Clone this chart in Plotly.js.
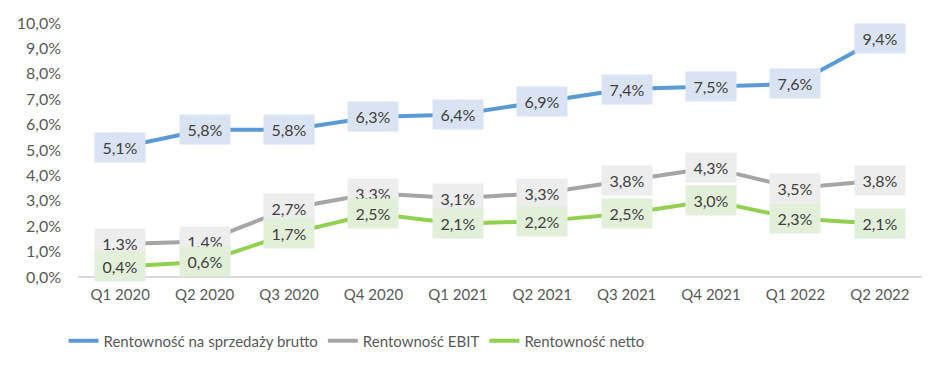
<!DOCTYPE html>
<html>
<head>
<meta charset="utf-8">
<script src="https://cdn.plot.ly/plotly-3.0.1.min.js"></script>
<style>html,body{margin:0;padding:0;background:#fff;}#chart{width:945px;height:373px;}</style>
</head>
<body>
<div id="chart"></div>
<script>
var categories = ["Q1 2020","Q2 2020","Q3 2020","Q4 2020","Q1 2021","Q2 2021","Q3 2021","Q4 2021","Q1 2022","Q2 2022"];
var brutto = [5.1,5.8,5.8,6.3,6.4,6.9,7.4,7.5,7.6,9.4];
var ebit = [1.3,1.4,2.7,3.3,3.1,3.3,3.8,4.3,3.5,3.8];
var netto = [0.4,0.6,1.7,2.5,2.1,2.2,2.5,3.0,2.3,2.1];
var bruttoLabels = ["5,1%","5,8%","5,8%","6,3%","6,4%","6,9%","7,4%","7,5%","7,6%","9,4%"];
var ebitLabels = ["1.3%","1.4%","2,7%","3.3%","3,1%","3,3%","3,8%","4,3%","3,5%","3,8%"];
var nettoLabels = ["0,4%","0,6%","1,7%","2,5%","2,1%","2,2%","2,5%","3,0%","2,3%","2,1%"];
var seriesNames = ["Rentowność na sprzedaży brutto","Rentowność EBIT","Rentowność netto"];
var yTicks = [0,1,2,3,4,5,6,7,8,9,10];
var yTickLabels = ["0,0%","1,0%","2,0%","3,0%","4,0%","5,0%","6,0%","7,0%","8,0%","9,0%","10,0%"];

var colors = ["#5b9bd5","#a5a5a5","#92d050"];
var labelBg = ["#dae3f3","#ededed","#e2f0d9"];
var allVals = [brutto, ebit, netto];
var allLabels = [bruttoLabels, ebitLabels, nettoLabels];
var FONT = "Lato, Roboto, sans-serif";

var traces = allVals.map(function(v,i){
  return {x: categories, y: v, type:"scatter", mode:"lines", name: seriesNames[i],
          line:{color: colors[i], width:4}, hoverinfo:"skip"};
});

var annotations = [];
[1,2,0].forEach(function(i){
  allVals[i].forEach(function(v,j){
    annotations.push({x: categories[j], y: v, xref:"x", yref:"y", text: allLabels[i][j],
      showarrow:false, bgcolor: labelBg[i], borderpad:5, width:40,
      font:{family:FONT, size:16, color:"#404040"}});
  });
});

var layout = {
  width:945, height:373,
  margin:{l:78, r:23, t:23, b:96},
  paper_bgcolor:"#fff", plot_bgcolor:"#fff",
  showlegend:true,
  legend:{orientation:"h", x:0.33, xanchor:"center", yref:"container", y:0.13, yanchor:"top",
          font:{family:FONT, size:15, color:"#595959"},
          itemwidth:30, tracegroupgap:0},
  xaxis:{type:"category", showgrid:false, zeroline:false, showline:false, ticks:"",
         ticklabelstandoff:7,
         tickfont:{family:FONT, size:15, color:"#595959"},
         range:[-0.5,9.5], fixedrange:true},
  yaxis:{range:[0,10], tickvals:yTicks, ticktext:yTickLabels, showgrid:false,
         zeroline:true, zerolinecolor:"#d9d9d9", zerolinewidth:1.5, showline:false, ticks:"",
         ticklabelstandoff:16,
         tickfont:{family:FONT, size:16, color:"#595959"}},
  annotations: annotations
};

Plotly.newPlot("chart", traces, layout, {displayModeBar:false, staticPlot:true});
</script>
</body>
</html>
